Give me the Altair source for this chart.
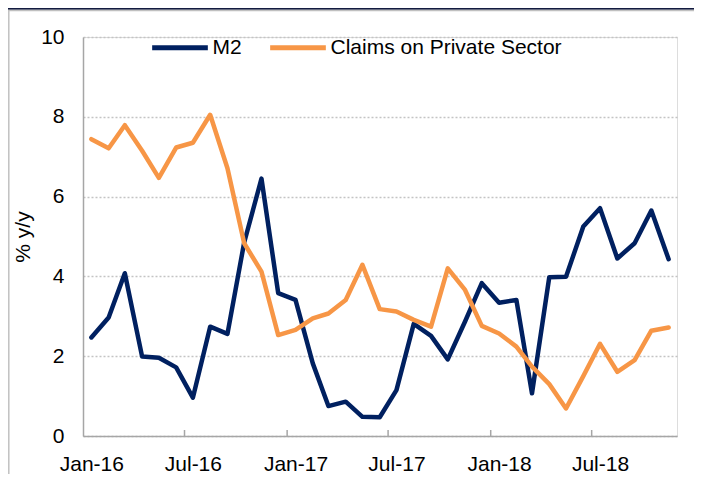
import altair as alt
import pandas as pd

# ---- data ----
month_starts = pd.date_range("2016-01-01", periods=35, freq="MS")
m2 = [2.47, 2.97, 4.08, 1.99, 1.96, 1.72, 0.96, 2.74, 2.56, 4.85,
      6.45, 3.58, 3.41, 1.82, 0.75, 0.86, 0.48, 0.47, 1.15, 2.81,
      2.51, 1.92, 2.87, 3.83, 3.34, 3.41, 1.07, 3.98, 3.99, 5.25,
      5.71, 4.45, 4.83, 5.65, 4.43]
claims = [7.44, 7.21, 7.79, 7.15, 6.47, 7.23, 7.35, 8.05, 6.71, 4.83,
          4.12, 2.53, 2.66, 2.95, 3.07, 3.41, 4.29, 3.18, 3.12, 2.91,
          2.74, 4.20, 3.66, 2.76, 2.57, 2.24, 1.74, 1.30, 0.69, 1.50,
          2.31, 1.61, 1.90, 2.64, 2.72]
series_names = ["M2", "Claims on Private Sector"]
series_colors = ["#002060", "#F79646"]
y_ticks = [0, 2, 4, 6, 8, 10]
label_idx = [0, 6, 12, 18, 24, 30]
tick_dates = ["2016-07-01", "2017-01-01", "2017-07-01", "2018-01-01", "2018-07-01"]

mid = [d + pd.Timedelta(days=15) for d in month_starts]
rows = []
for name, vals in zip(series_names, [m2, claims]):
    for d, v in zip(mid, vals):
        rows.append({"date": d.strftime("%Y-%m-%d"), "series": name, "value": v})
df = pd.DataFrame(rows)

W, H = 594, 399
PAD = {"left": 75, "top": 29, "right": 17, "bottom": 38}
AXIS_GREY = "#A6A6A6"
FONT = "Liberation Sans"

label_values = [alt.DateTime(year=mid[i].year, month=mid[i].month, date=mid[i].day, utc=True)
                for i in label_idx]

x_enc = alt.X(
    "date:T",
    scale=alt.Scale(type="utc",
                    domain=[alt.DateTime(year=2016, month=1, date=1, utc=True),
                            alt.DateTime(year=2018, month=12, date=1, utc=True)]),
    axis=alt.Axis(values=label_values, format="%b-%y", title=None, grid=False,
                  ticks=False, tickSize=0, labelPadding=34, labelBaseline="alphabetic",
                  labelFontSize=21, labelFont=FONT, labelColor="black",
                  labelFlush=False, labelOverlap=False, labelBound=False,
                  domainColor=AXIS_GREY, domainWidth=1.5),
)

lines = alt.Chart(df).mark_line(strokeWidth=4.5, strokeJoin="round", strokeCap="round").encode(
    x=x_enc,
    y=alt.Y("value:Q", scale=alt.Scale(domain=[0, 10]),
            axis=alt.Axis(values=y_ticks, title="% y/y", grid=True, gridDash=[2, 2],
                          gridColor="#C4C4C4", gridWidth=1.5, ticks=False, tickSize=0,
                          labelPadding=19, labelFontSize=21, labelFont=FONT,
                          labelColor="black", domainColor=AXIS_GREY, domainWidth=1.5,
                          titleFontSize=21, titleFont=FONT, titleFontWeight="normal",
                          titleColor="black", titleX=-54, titleY=H / 2,
                          titleBaseline="alphabetic", titleAngle=270)),
    color=alt.Color("series:N", sort=series_names,
                    scale=alt.Scale(domain=series_names, range=series_colors),
                    legend=alt.Legend(orient="none", legendX=66.5, legendY=-20,
                                      direction="horizontal", title=None,
                                      labelFontSize=21, labelFont=FONT, labelColor="black",
                                      labelLimit=500,
                                      symbolType="stroke", symbolSize=3100,
                                      symbolStrokeWidth=5, labelOffset=2,
                                      columnPadding=17, padding=0)),
)

ticks = alt.Chart(pd.DataFrame({"date": tick_dates})).mark_rule(
    color=AXIS_GREY, strokeWidth=1.5).encode(
    x=x_enc, y=alt.value(H - 6), y2=alt.value(H))

one = alt.Data(values=[{}])
band = alt.Chart(one).mark_rect(color="#131B40", clip=False).encode(
    x=alt.value(-PAD["left"]), x2=alt.value(W + PAD["right"]),
    y=alt.value(-PAD["top"]), y2=alt.value(-PAD["top"] + 1.8))
top_line = alt.Chart(one).mark_rule(color="#C0C0C0", strokeWidth=1.5, clip=False).encode(
    x=alt.value(-PAD["left"]), x2=alt.value(W + PAD["right"]),
    y=alt.value(-PAD["top"] + 2.6))
left_line = alt.Chart(one).mark_rule(color="#C0C0C0", strokeWidth=1.5, clip=False).encode(
    x=alt.value(-PAD["left"] + 0.8), y=alt.value(-PAD["top"] + 2.6),
    y2=alt.value(H + PAD["bottom"]))

chart = alt.layer(band, top_line, left_line, lines, ticks).properties(
    width=W, height=H, padding=PAD,
    autosize=alt.AutoSizeParams(type="none"),
    background="white",
).configure_view(stroke=None).configure(font=FONT)

chart.save("out.html", embed_options={"renderer": "svg", "actions": False})
